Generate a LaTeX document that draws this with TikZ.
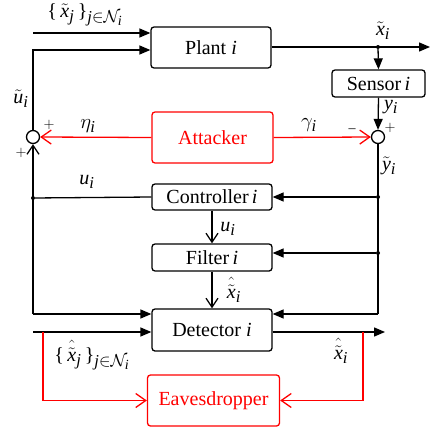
\documentclass[tikz,border=0pt]{standalone}
\usepackage{amsmath}
\usepackage{mathtools}
\usepackage{fontspec}
\setmainfont{Liberation Serif}
\usepackage[italic]{mathastext}
\usetikzlibrary{positioning}
\usetikzlibrary{arrows.meta}
\newcommand{\htx}{\mathrlap{\raisebox{7pt}{$\hat{\phantom{x}}$}}\tilde{x}}

\begin{document}
\begin{tikzpicture}[x=1pt, y=-1pt,
  every node/.style = {font=\fontsize{20}{22}\selectfont},
  block/.style = {draw, rounded corners=3pt, line width=1.3pt, inner sep=0pt},
  redblock/.style = {block, red, text=red},
  sumnode/.style = {draw, circle, line width=1.3pt, minimum size=13pt, inner sep=0pt},
  wire/.style = {line width=1.3pt},
  tri/.style = {wire, -{Triangle[length=11pt, width=9pt]}},
  chev/.style = {wire, -{Straight Barb[length=9pt, width=12pt]}},
  redchev/.style = {chev, red, -{Straight Barb[length=10pt, width=14pt]}},
  dot/.style = {circle, fill, inner sep=0pt, minimum size=4pt},
  lbl/.style = {inner sep=1pt},
  sgn/.style = {inner sep=0pt, font=\fontsize{14}{15}\selectfont}
]
\useasboundingbox (0,0) rectangle (430,431);

% blocks
\node[block, minimum width=120pt, minimum height=41pt] (plant) at (211,47.5) {Plant $i$};
\node[block, minimum width=93pt, minimum height=27pt] (sensor) at (378.5,83.5) {Sensor\,$i$};
\node[redblock, minimum width=121pt, minimum height=51pt] (attacker) at (212.5,137.5) {Attacker};
\node[block, minimum width=120pt, minimum height=26pt] (ctrl) at (212,197) {Controller\,$i$};
\node[block, minimum width=120pt, minimum height=27pt] (filter) at (212,257.5) {Filter\,$i$};
\node[block, minimum width=120pt, minimum height=42pt] (det) at (212,330) {Detector $i$};
\node[redblock, minimum width=132pt, minimum height=51pt] (eav) at (213.5,400.5) {Eavesdropper};

\node[sumnode] (sumL) at (33,137) {};
\node[sumnode] (sumR) at (378,137) {};

% junctions and free ends
\coordinate (inTop) at (33,33);
\coordinate (inPlant) at (33,50);
\coordinate (outPlant) at (430,47);
\node[dot] (jx) at (378,47) {};
\node[dot] (jc) at (378,197) {};
\node[dot] (jf) at (378,253) {};
\coordinate (jd) at (378,314);
\node[dot] (ju) at (33,198) {};
\coordinate (jb) at (33,314);
\coordinate (inDet) at (33,332);
\coordinate (tapL) at (43,332);
\coordinate (outDet) at (385,332);
\coordinate (tapR) at (363,332);

% plant loop
\draw[tri] (inTop) -- (plant.west |- inTop);
\draw[tri] (sumL.north) |- (plant.west |- inPlant);
\draw[tri] (plant.east |- outPlant) -- (outPlant);
\draw[tri] (jx) -- (sensor.north);
\draw[tri] (sensor.south) -- (sumR.north);

% attacks
\draw[redchev] (attacker.east) -- (sumR.west);
\draw[redchev] (attacker.west) -- (sumL.east);

% measurement side
\draw[wire] (sumR.south) -- (jd);
\draw[tri] (jc) -- (ctrl.east);
\draw[tri] (jf) -- (filter.east |- jf);
\draw[tri] (jd) -- (det.east |- jd);

% control side
\draw[wire] (ctrl.west) -- (ju);
\draw[chev] (jb) -- (sumL.south);
\draw[tri] (jb) -- (det.west |- jb);
\draw[tri] (inDet) -- (det.west |- inDet);
\draw[chev] (ctrl.south) -- (filter.north);
\draw[chev] (filter.south) -- (det.north);
\draw[tri] (det.east |- outDet) -- (outDet);

% eavesdropper taps
\draw[redchev] (tapL) |- (eav.west);
\draw[redchev] (tapR) |- (eav.east);

% labels
\node[lbl] (lxj) at (85,15) {$\{\,\tilde{x}_j\,\}_{j\in\mathcal{N}_i}$};
\node[lbl] (lxi) at (383,31) {$\tilde{x}_i$};
\node[lbl] (lyi) at (391,107) {$y_i$};
\node[lbl] (lyt) at (389,166) {$\tilde{y}_i$};
\node[lbl] (lgam) at (309,125) {$\gamma_i$};
\node[lbl] (leta) at (88,126) {$\eta_i$};
\node[lbl] (lut) at (21,99) {$\tilde{u}_i$};
\node[lbl] (lu1) at (87,182) {$u_i$};
\node[lbl] (lu2) at (228,229) {$u_i$};
\node[lbl] (lxh1) at (234,290) {$\htx_i$};
\node[lbl] (lxhj) at (92,355) {$\{\,\htx_j\,\}_{j\in\mathcal{N}_i}$};
\node[lbl] (lxh2) at (341,351) {$\htx_i$};
\node[sgn] (pR) at (390,128) {$+$};
\node[sgn] (mR) at (352,131) {$-$};
\node[sgn] (pL1) at (49,125) {$+$};
\node[sgn] (pL2) at (21,153) {$+$};
\end{tikzpicture}
\end{document}
